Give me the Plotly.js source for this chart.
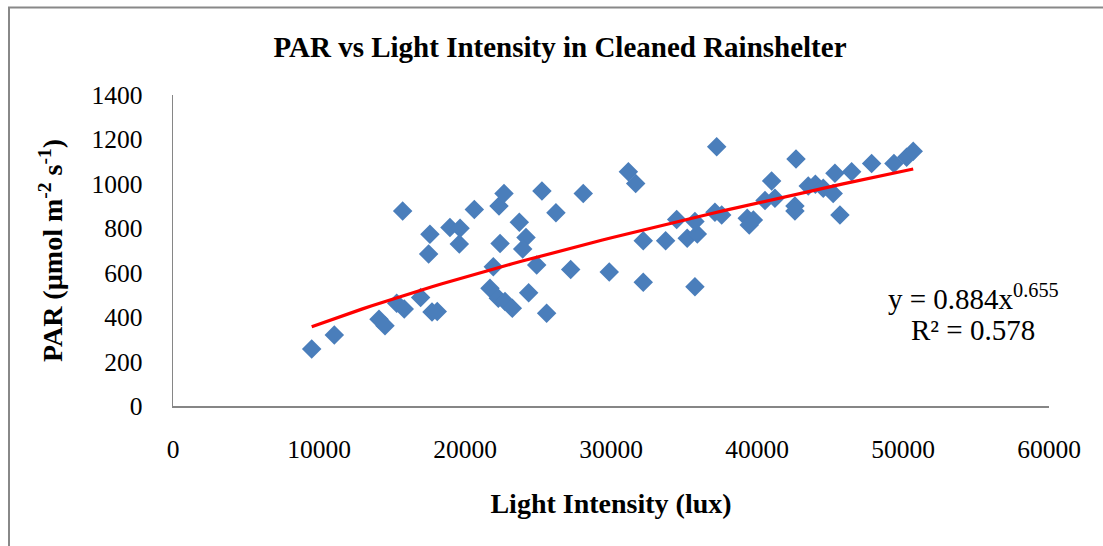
<!DOCTYPE html>
<html>
<head>
<meta charset="utf-8">
<script src="https://cdn.plot.ly/plotly-3.0.1.min.js"></script>
<style>html,body{margin:0;padding:0;background:#fff;}#chart{width:1103px;height:546px;}</style>
</head>
<body>
<div id="chart"></div>
<script>
// Light intensity (lux)
const lightLux = [9500, 11050, 14110, 14520, 15320, 15840, 15730, 16960, 17600, 17510,
  17740, 18100, 18970, 19660, 19610, 20640, 21710, 21940, 22280, 22740,
  23240, 22400, 22330, 22670, 23720, 24180, 23950, 24360, 24910, 25270,
  25590, 26230, 27240, 28100, 29880, 31190, 31690, 32210, 32210, 33740,
  34500, 35220, 35910, 35750, 35750, 37120, 37580, 37240, 39330, 39750,
  39470, 40550, 41230, 41000, 42600, 42600, 42670, 43510, 44000, 44540,
  45220, 45340, 45680, 46480, 47850, 49380, 50250, 50700];
// PAR (µmol m-2 s-1)
const parValues = [257, 320, 390, 361, 462, 437, 878, 488, 773, 684,
  423, 425, 803, 800, 729, 885, 530, 627, 485, 470,
  440, 732, 900, 957, 827, 758, 707, 510, 635, 968,
  417, 870, 615, 957, 603, 1055, 1002, 744, 557, 744,
  840, 755, 774, 830, 537, 872, 860, 1167, 845, 837,
  815, 925, 935, 1013, 900, 878, 1112, 990, 998, 980,
  957, 1048, 860, 1055, 1092, 1092, 1120, 1147];
// Power trendline coefficients shown on the chart
const fitA = 0.884;
const fitB = 0.655;
const fitR2 = 0.578;
const xTicks = [0, 10000, 20000, 30000, 40000, 50000, 60000];
const yTicks = [0, 200, 400, 600, 800, 1000, 1200, 1400];

const xMin = Math.min(...lightLux), xMax = Math.max(...lightLux);
const trendX = [], trendY = [];
for (let i = 0; i <= 60; i++) {
  const x = xMin + (xMax - xMin) * i / 60;
  trendX.push(x);
  trendY.push(fitA * Math.pow(x, fitB));
}

const FONT = 'Liberation Serif, Times New Roman, serif';

const traces = [
  {x: lightLux, y: parValues, type: 'scatter', mode: 'markers',
   marker: {symbol: 'diamond', size: 15, color: '#4A7EBB', line: {width: 0}},
   hoverinfo: 'x+y', showlegend: false},
  {x: trendX, y: trendY, type: 'scatter', mode: 'lines',
   line: {color: '#FF0000', width: 3.2}, hoverinfo: 'skip', showlegend: false}
];

const layout = {
  width: 1103, height: 546,
  margin: {l: 173, r: 54, t: 95, b: 140},
  paper_bgcolor: '#ffffff', plot_bgcolor: '#ffffff',
  font: {family: FONT, color: '#000000'},
  title: {text: '<b>PAR vs Light Intensity in Cleaned Rainshelter</b>',
          font: {family: FONT, size: 29, color: '#000'},
          xref: 'container', yref: 'container', x: 560/1103, xanchor: 'center',
          y: 1 - 47/546, yanchor: 'middle'},
  xaxis: {range: [0, 60000], tickvals: xTicks, ticktext: xTicks.map(String),
          showgrid: false, zeroline: false, showline: true, linecolor: '#868686', linewidth: 1.5,
          ticks: '', ticklabelstandoff: 20, tickfont: {family: FONT, size: 25.5, color: '#000'},
          title: {text: '<b>Light Intensity (lux)</b>', font: {family: FONT, size: 28, color: '#000'}, standoff: 30},
          fixedrange: true},
  yaxis: {range: [0, 1400], tickvals: yTicks, ticktext: yTicks.map(String),
          showgrid: false, zeroline: false, showline: true, linecolor: '#868686', linewidth: 1.5,
          ticks: '', ticklabelstandoff: 24, tickfont: {family: FONT, size: 25.5, color: '#000'},
          title: {text: '<b>PAR (µmol m<sup>-2</sup> s<sup>-1</sup>)</b>', font: {family: FONT, size: 28, color: '#000'}, standoff: 20},
          fixedrange: true},
  annotations: [
    {xref: 'x', yref: 'y', x: 54800, y: 491, xanchor: 'center', yanchor: 'middle', showarrow: false,
     text: 'y = ' + fitA + 'x<sup>' + fitB + '</sup>', font: {family: FONT, size: 29, color: '#000'}},
    {xref: 'x', yref: 'y', x: 54800, y: 342, xanchor: 'center', yanchor: 'middle', showarrow: false,
     text: 'R² = ' + fitR2, font: {family: FONT, size: 29, color: '#000'}}
  ],
  shapes: [
    {type: 'rect', xref: 'paper', yref: 'paper',
     x0: (9 - 173) / 876, x1: (1110 - 173) / 876, y0: (406 - 560) / 311, y1: (406 - 7.5) / 311,
     line: {color: '#888888', width: 2}, fillcolor: 'rgba(0,0,0,0)', layer: 'below'}
  ]
};

Plotly.newPlot('chart', traces, layout, {displayModeBar: false, staticPlot: true});
</script>
</body>
</html>
